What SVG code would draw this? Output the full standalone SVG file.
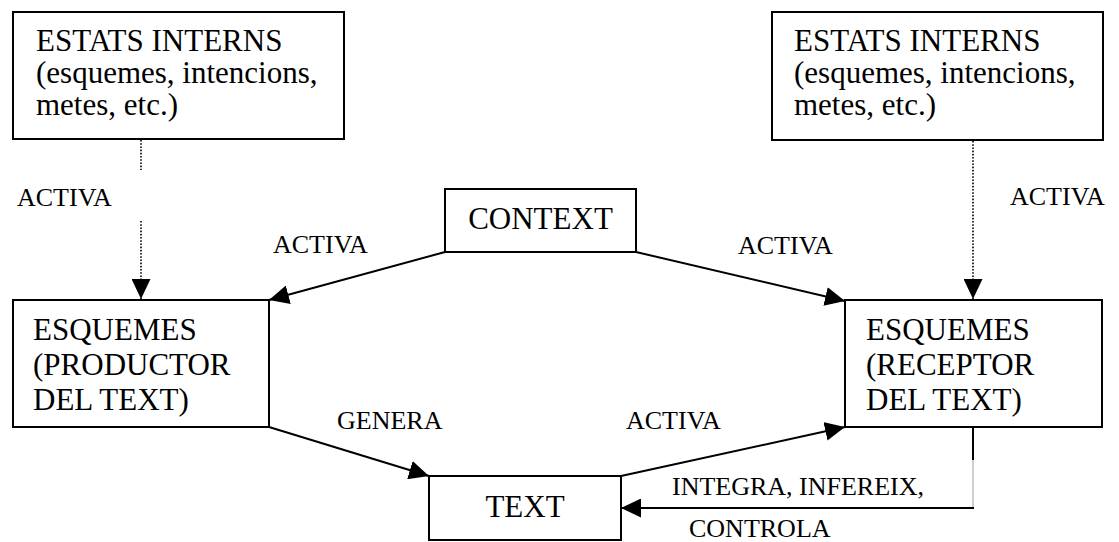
<svg xmlns="http://www.w3.org/2000/svg" width="1119" height="542" viewBox="0 0 1119 542">
  <style>
    .box { fill: #ffffff; stroke: #000000; stroke-width: 2; }
    .node-text { font-family: "Liberation Serif", "Times New Roman", serif; font-size: 31px; fill: #000000; }
    .label { font-family: "Liberation Serif", "Times New Roman", serif; font-size: 26px; fill: #000000; }
    .link { fill: none; stroke: #000000; stroke-width: 2; }
    .dotted { fill: none; stroke: #000000; stroke-width: 1.6; stroke-dasharray: 1.6 1.6; }
    .faint { fill: none; stroke: #b0b0b0; stroke-width: 1.2; }
  </style>
  <defs>
    <marker id="arrow" viewBox="0 0 20 19" markerWidth="20" markerHeight="19" refX="20" refY="9.5" orient="auto" markerUnits="userSpaceOnUse">
      <path d="M0,0 L20,9.5 L0,19 Z" fill="#000000"/>
    </marker>
  </defs>

  <rect width="1119" height="542" fill="#ffffff"/>

  <!-- connectors -->
  <g id="connectors">
    <!-- internal states of the producer activate its schemas (dotted, interrupted by label) -->
    <line class="dotted" x1="141" y1="140" x2="141" y2="170"/>
    <line class="dotted" x1="141" y1="221" x2="141" y2="299" marker-end="url(#arrow)"/>
    <!-- internal states of the receiver activate its schemas -->
    <line class="dotted" x1="973" y1="141" x2="973" y2="299" marker-end="url(#arrow)"/>
    <!-- context activates both schema sets -->
    <line class="link" x1="445" y1="252" x2="269" y2="300" marker-end="url(#arrow)"/>
    <line class="link" x1="636" y1="252" x2="845" y2="301" marker-end="url(#arrow)"/>
    <!-- producer generates text -->
    <line class="link" x1="269" y1="427" x2="429" y2="476" marker-end="url(#arrow)"/>
    <!-- text activates receiver -->
    <line class="link" x1="621" y1="476" x2="845" y2="427" marker-end="url(#arrow)"/>
    <!-- receiver integrates / infers / controls text -->
    <line class="link" x1="973" y1="427" x2="973" y2="460"/>
    <line class="faint" x1="973" y1="460" x2="973" y2="508"/>
    <line class="link" x1="974" y1="508" x2="621" y2="508" marker-end="url(#arrow)"/>
  </g>

  <!-- connector labels -->
  <g id="labels">
    <text class="label" x="17" y="206">ACTIVA</text>
    <text class="label" x="273" y="253">ACTIVA</text>
    <text class="label" x="738" y="254">ACTIVA</text>
    <text class="label" x="1010" y="205">ACTIVA</text>
    <text class="label" x="337" y="429">GENERA</text>
    <text class="label" x="626" y="429">ACTIVA</text>
    <text class="label" x="672" y="495">INTEGRA, INFEREIX,</text>
    <text class="label" x="689" y="537">CONTROLA</text>
  </g>

  <g id="estats-productor">
    <rect class="box" x="13" y="12" width="331" height="127"/>
    <text class="node-text" x="36" y="51">ESTATS INTERNS</text>
    <text class="node-text" x="36" y="83">(esquemes, intencions,</text>
    <text class="node-text" x="36" y="115">metes, etc.)</text>
  </g>

  <g id="estats-receptor">
    <rect class="box" x="772" y="12" width="331" height="128"/>
    <text class="node-text" x="794" y="51">ESTATS INTERNS</text>
    <text class="node-text" x="794" y="83">(esquemes, intencions,</text>
    <text class="node-text" x="794" y="115">metes, etc.)</text>
  </g>

  <g id="context">
    <rect class="box" x="445" y="189" width="191" height="63"/>
    <text class="node-text" x="540.5" y="229" text-anchor="middle">CONTEXT</text>
  </g>

  <g id="esquemes-productor">
    <rect class="box" x="13" y="300" width="256" height="127"/>
    <text class="node-text" x="33" y="340">ESQUEMES</text>
    <text class="node-text" x="33" y="375">(PRODUCTOR</text>
    <text class="node-text" x="33" y="410">DEL TEXT)</text>
  </g>

  <g id="esquemes-receptor">
    <rect class="box" x="845" y="300" width="257" height="127"/>
    <text class="node-text" x="866" y="340">ESQUEMES</text>
    <text class="node-text" x="866" y="375">(RECEPTOR</text>
    <text class="node-text" x="866" y="410">DEL TEXT)</text>
  </g>

  <g id="text-node">
    <rect class="box" x="429" y="476" width="192" height="64"/>
    <text class="node-text" x="525" y="517" text-anchor="middle">TEXT</text>
  </g>
</svg>
